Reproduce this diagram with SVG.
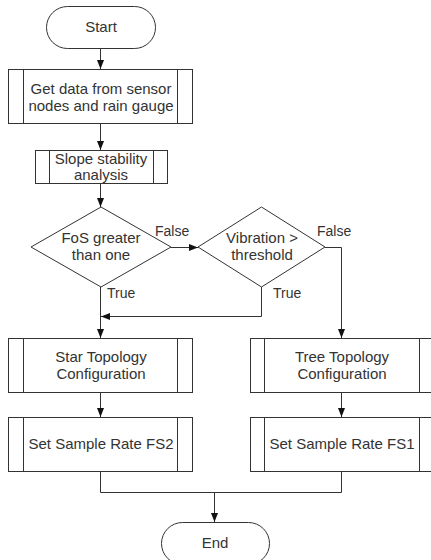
<svg xmlns="http://www.w3.org/2000/svg" width="431" height="560" viewBox="0 0 431 560">
<defs>
<marker id="ah" markerWidth="10" markerHeight="8" refX="9" refY="4" orient="auto" markerUnits="userSpaceOnUse">
<path d="M0,0.5 L9,4 L0,7.5 z" fill="#111"/>
</marker>
<style>
.s{fill:#fff;stroke:#333;stroke-width:1}
.l{fill:none;stroke:#333;stroke-width:1}
.c{fill:none;stroke:#333;stroke-width:1;marker-end:url(#ah)}
text{font-family:"Liberation Sans",Arial,sans-serif;font-size:15px;fill:#333;text-anchor:middle}
.lb{text-anchor:start;font-size:14px}
</style>
</defs>
<rect width="431" height="560" fill="#fff"/>
<g id="connectors">
<path class="c" d="M100.5,48 V69"/>
<path class="c" d="M100.5,123 V150"/>
<path class="c" d="M100.5,183 V207"/>
<path class="c" d="M171,247.5 H198"/>
<path class="c" d="M325,247.5 H341.5 V338"/>
<path class="c" d="M100.5,287 V338"/>
<path class="c" d="M261.5,287 V316.5 H101"/>
<path class="c" d="M100.5,392 V417"/>
<path class="c" d="M341.5,392 V417"/>
<path class="l" d="M100.5,471 V492.5 H341.5 V471"/>
<path class="c" d="M214.5,492.5 V522"/>
<text class="lb" x="155" y="236">False</text>
<text class="lb" x="317" y="236">False</text>
<text class="lb" x="107" y="298">True</text>
<text class="lb" x="273" y="298">True</text>
</g>
<g id="start">
<rect class="s" x="46.5" y="6.5" width="109" height="42" rx="21"/>
<text x="101" y="32">Start</text>
</g>
<g id="getdata">
<rect class="s" x="8.5" y="69.5" width="184" height="54"/>
<path class="l" d="M23.5,69.5 V123.5 M177.5,69.5 V123.5"/>
<text x="101" y="94">Get data from sensor</text>
<text x="101" y="111">nodes and rain gauge</text>
</g>
<g id="slope">
<rect class="s" x="35.5" y="150.5" width="132" height="33"/>
<path class="l" d="M49.5,150.5 V183.5 M153.5,150.5 V183.5"/>
<text x="101" y="164">Slope stability</text>
<text x="101" y="180">analysis</text>
</g>
<g id="fos">
<path class="s" d="M101,207 L171,247 L101,287 L31,247 z"/>
<text x="101" y="243">FoS greater</text>
<text x="101" y="260">than one</text>
</g>
<g id="vibration">
<path class="s" d="M261.5,207 L325,247 L261.5,287 L198,247 z"/>
<text x="262" y="243">Vibration &gt;</text>
<text x="262" y="260">threshold</text>
</g>
<g id="star">
<rect class="s" x="8.5" y="338.5" width="184" height="54"/>
<path class="l" d="M23.5,338.5 V392.5 M177.5,338.5 V392.5"/>
<text x="101" y="362">Star Topology</text>
<text x="101" y="379">Configuration</text>
</g>
<g id="tree">
<rect class="s" x="250.5" y="338.5" width="184" height="54"/>
<path class="l" d="M264.5,338.5 V392.5 M419.5,338.5 V392.5"/>
<text x="342" y="362">Tree Topology</text>
<text x="342" y="379">Configuration</text>
</g>
<g id="fs2">
<rect class="s" x="8.5" y="417.5" width="184" height="54"/>
<path class="l" d="M23.5,417.5 V471.5 M177.5,417.5 V471.5"/>
<text x="101" y="449">Set Sample Rate FS2</text>
</g>
<g id="fs1">
<rect class="s" x="250.5" y="417.5" width="184" height="54"/>
<path class="l" d="M264.5,417.5 V471.5 M419.5,417.5 V471.5"/>
<text x="342" y="449">Set Sample Rate FS1</text>
</g>
<g id="end">
<rect class="s" x="161.5" y="522.5" width="108" height="42" rx="21"/>
<text x="215" y="548">End</text>
</g>
</svg>
